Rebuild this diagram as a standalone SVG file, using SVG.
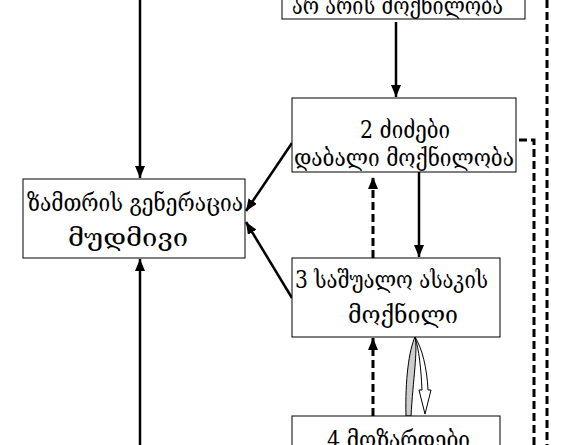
<svg xmlns="http://www.w3.org/2000/svg" width="568" height="445" viewBox="0 0 568 445">
<style>
.box{fill:#fff;stroke:#000;stroke-width:1}
.t{font-family:"DejaVu Serif","DejaVu Sans",serif;font-size:24px;fill:#000}
.s{stroke:#000;stroke-width:2.5;fill:none}
.d{stroke:#000;stroke-width:3;fill:none;stroke-dasharray:8 4}
</style>
<defs>
<marker id="ah" viewBox="0 0 12 10" refX="12" refY="5" markerWidth="12" markerHeight="10" markerUnits="userSpaceOnUse" orient="auto">
<path d="M0,0 L12,5 L0,10 Z" fill="#000"/>
</marker>
</defs>
<rect width="568" height="445" fill="#fff"/>
<g id="connectors">
<line class="s" x1="140" y1="0" x2="140" y2="178" marker-end="url(#ah)"/>
<line class="s" x1="140" y1="445" x2="140" y2="259" marker-end="url(#ah)"/>
<line class="s" stroke-width="3.5" x1="396" y1="22" x2="396" y2="97" marker-end="url(#ah)"/>
<line class="s" x1="292" y1="143" x2="246" y2="211" marker-end="url(#ah)"/>
<line class="s" x1="292" y1="298" x2="246" y2="222" marker-end="url(#ah)"/>
<line class="s" stroke-width="3.5" x1="419" y1="172" x2="419" y2="257" marker-end="url(#ah)"/>
<line class="d" x1="373" y1="258" x2="373" y2="177" marker-end="url(#ah)"/>
<line class="d" x1="373" y1="416" x2="373" y2="338" marker-end="url(#ah)"/>
<polyline class="d" points="534,445 534,140 501,140" marker-end="url(#ah)"/>
<line class="d" x1="547" y1="0" x2="547" y2="445"/>
<path d="M406,416 C405,380 409,350 415,337 C418,350 413,380 411,416 Z" fill="#ccc" stroke="#000" stroke-width="1"/>
<path d="M415,337 C422,348 427,368 428,390 L431,390 L425,414 L419,390 L422,390 C421,368 419,350 415,337 Z" fill="#fff" stroke="#000" stroke-width="1"/>
</g>
<g id="n_top">
<rect class="box" x="282" y="-40" width="243" height="59"/>
<text class="t" x="292" y="14" textLength="211" lengthAdjust="spacingAndGlyphs">არ არის მოქნილობა</text>
</g>
<g id="n_winter">
<rect class="box" x="23" y="179" width="222" height="79"/>
<text class="t" x="27" y="211" textLength="216" lengthAdjust="spacingAndGlyphs">ზამთრის გენერაცია</text>
<text class="t" x="68" y="246" textLength="120" lengthAdjust="spacingAndGlyphs">მუდმივი</text>
</g>
<g id="n2">
<rect class="box" x="292" y="98" width="224" height="74"/>
<text class="t" x="360" y="138" textLength="90" lengthAdjust="spacingAndGlyphs">2 ძიძები</text>
<text class="t" x="294" y="166" textLength="220" lengthAdjust="spacingAndGlyphs">დაბალი მოქნილობა</text>
</g>
<g id="n3">
<rect class="box" x="292" y="258" width="208" height="79"/>
<text class="t" x="295" y="288" textLength="193" lengthAdjust="spacingAndGlyphs">3 საშუალო ასაკის</text>
<text class="t" x="348" y="323" textLength="110" lengthAdjust="spacingAndGlyphs">მოქნილი</text>
</g>
<g id="n4">
<rect class="box" x="292" y="416" width="208" height="60"/>
<text class="t" x="327" y="448" textLength="143" lengthAdjust="spacingAndGlyphs">4 მოზარდები</text>
</g>
</svg>
